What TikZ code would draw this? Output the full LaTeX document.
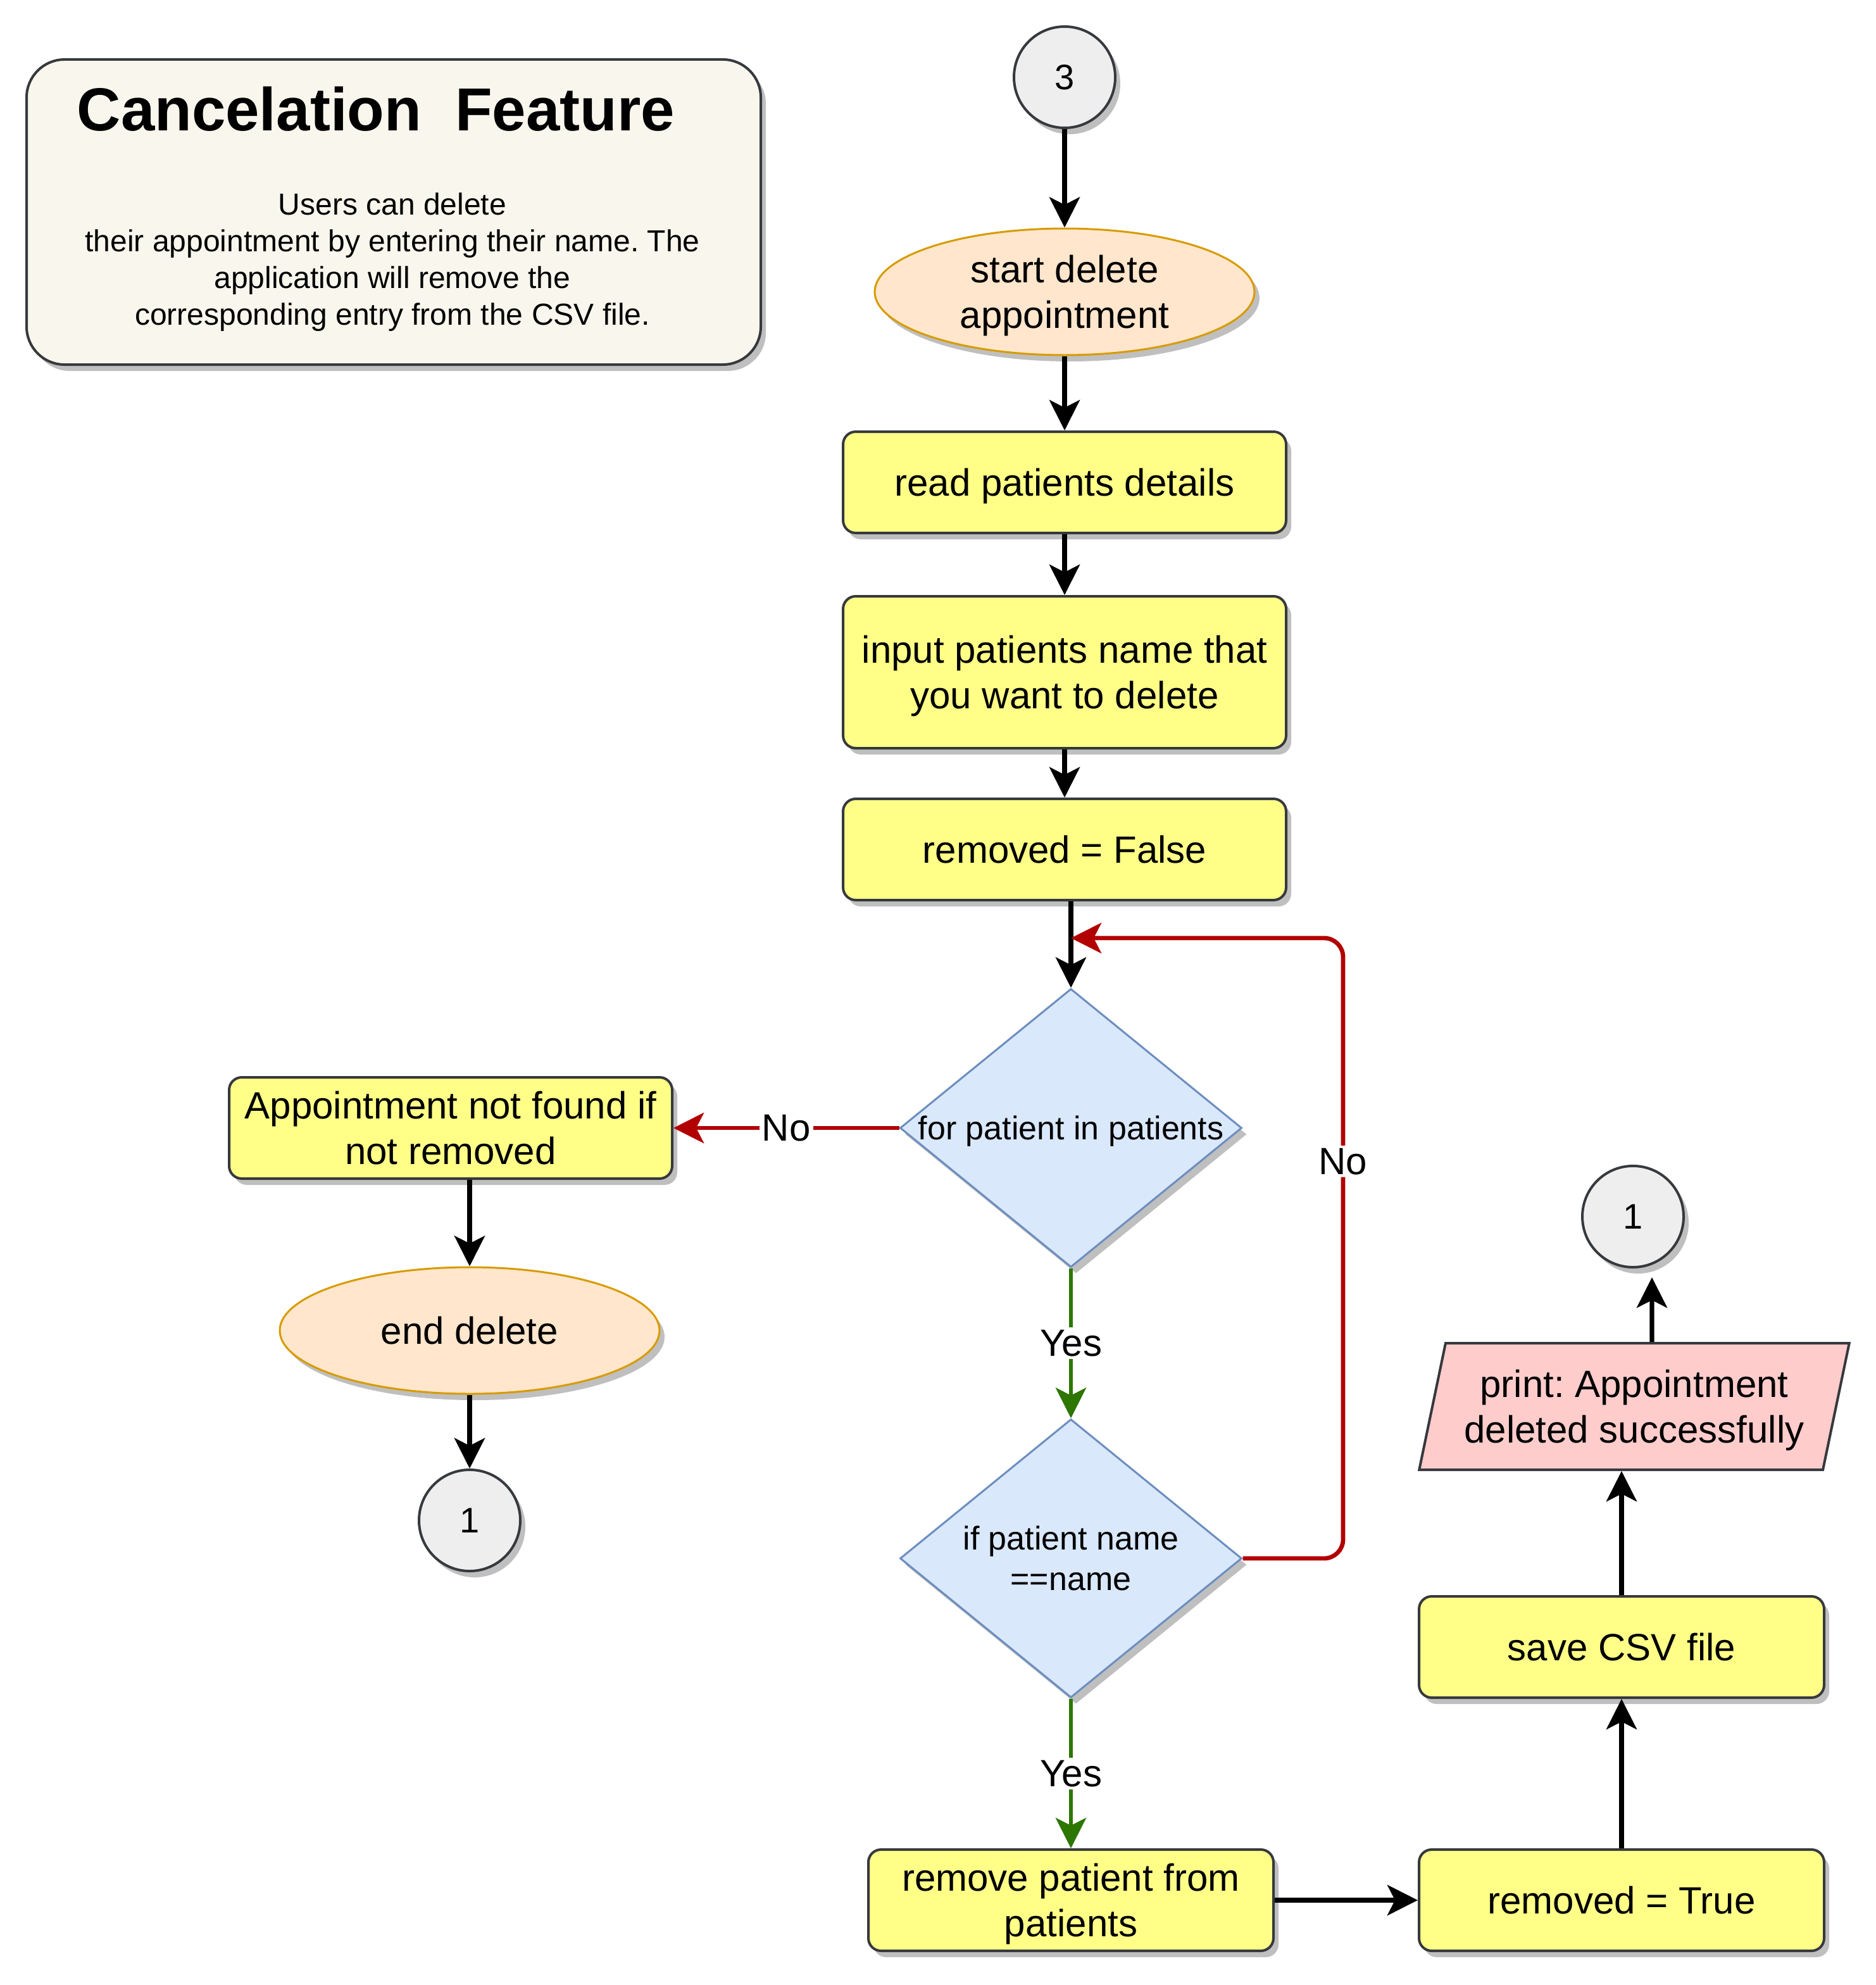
\documentclass[tikz,border=0pt]{standalone}
\usepackage{fontspec}
\setmainfont{Liberation Sans}
\frenchspacing
\usepackage{xcolor}
\definecolor{boxyellow}{HTML}{FFFF88}
\definecolor{edgegray}{HTML}{36393D}
\definecolor{termfill}{HTML}{FFE6CC}
\definecolor{termline}{HTML}{D79B00}
\definecolor{decfill}{HTML}{DAE8FC}
\definecolor{decline}{HTML}{6C8EBF}
\definecolor{connfill}{HTML}{EEEEEE}
\definecolor{notefill}{HTML}{F9F7ED}
\definecolor{printpink}{HTML}{FFCCCC}
\definecolor{nored}{HTML}{B20000}
\definecolor{yesgreen}{HTML}{2D7600}
\definecolor{shadowgray}{HTML}{BFBFBF}
\usepackage{tikz}
\usetikzlibrary{arrows.meta, shapes.geometric, shadows}

\begin{document}
\begin{tikzpicture}[x=1pt, y=-1pt, >={Stealth[length=24pt, width=24pt, inset=6pt]},
    boxshadow/.style={drop shadow={shadow xshift=4pt, shadow yshift=-5pt, fill=shadowgray, opacity=1}},
    txt/.style={font=\fontsize{30}{36}\selectfont, align=center},
    process/.style={txt, text depth=0pt, rectangle, rounded corners=10pt, draw=edgegray, line width=2pt, fill=boxyellow, minimum width=350pt, minimum height=80pt, inner sep=0pt, boxshadow},
    terminal/.style={txt, text depth=0pt, ellipse, draw=termline, line width=1.5pt, fill=termfill, minimum width=300pt, minimum height=100pt, inner sep=0pt, boxshadow},
    decision/.style={diamond, draw=decline, line width=1.5pt, fill=decfill, minimum width=270pt, minimum height=220pt, inner sep=0pt, boxshadow},
    dectext/.style={txt, text depth=0pt, font=\fontsize{26}{32}\selectfont},
    connector/.style={circle, draw=edgegray, line width=2pt, fill=connfill, minimum size=80pt, inner sep=0pt, font=\fontsize{28}{34}\selectfont, boxshadow},
    flow/.style={->, line width=3.6pt, black},
    noflow/.style={->, line width=3.4pt, nored},
    yesflow/.style={->, line width=3.4pt, yesgreen},
    lbl/.style={txt, fill=white, inner sep=2pt, text=black}]
    \useasboundingbox (0,0) rectangle (1482,1568);
    % title note
    \node[rectangle, rounded corners=30pt, draw=edgegray, line width=2pt, fill=notefill, minimum width=580pt, minimum height=241pt, boxshadow] (info) at (311,167.5) {};
    \node[font=\bfseries\fontsize{48}{58}\selectfont] (title) at (297,86) {Cancelation~~Feature};
    \node[txt, font=\fontsize{24}{29}\selectfont] (desc) at (310,207) {Users can delete\\their appointment by entering their name. The\\application will remove the\\corresponding entry from the CSV file.};
    % main column
    \node[connector] (c3) at (841,61) {3};
    \node[terminal] (start) at (841,230.5) {start delete\\appointment};
    \node[process] (read) at (841,381) {read patients details};
    \node[process, minimum height=120pt] (input) at (841,531) {input patients name that\\you want to delete};
    \node[process] (init) at (841,671) {removed = False};
    \node[decision, label={[dectext]center:for patient in patients}] (loop) at (846,891) {};
    \node[decision, label={[dectext]center:if patient name\\==name}] (match) at (846,1231) {};
    \node[process, minimum width=320pt] (remove) at (846,1501) {remove patient from\\patients};
    % left branch
    \node[process] (notfound) at (356,891) {Appointment not found if\\not removed};
    \node[terminal] (endnode) at (371,1051) {end delete};
    \node[connector] (c1a) at (371,1201) {1};
    % right column
    \node[process, minimum width=320pt] (settrue) at (1281,1501) {removed = True};
    \node[process, minimum width=320pt] (savecsv) at (1281,1301) {save CSV file};
    \node[txt, text depth=0pt, trapezium, trapezium left angle=72, trapezium right angle=108, trapezium stretches=true, draw=edgegray, line width=2pt, fill=printpink, minimum width=340pt, minimum height=100pt, inner sep=0pt] (printmsg) at (1291,1111) {print: Appointment\\deleted successfully};
    \node[connector] (c1b) at (1290,961) {1};
    % connectors
    \draw[flow] (c3) -- (start);
    \draw[flow] (start) -- (read);
    \draw[flow] (read) -- (input);
    \draw[flow] (input) -- (init);
    \draw[flow] (init.south -| loop.north) -- (loop.north);
    \draw[noflow] (loop.west) -- node[lbl] {No} (notfound.east);
    \draw[flow] (notfound.south -| endnode.north) -- (endnode.north);
    \draw[flow] (endnode) -- (c1a);
    \draw[yesflow] (loop.south) -- node[lbl] {Yes} (match.north);
    \coordinate (back) at (1061,741);
    \draw[noflow, rounded corners=15pt] (match.east) -| node[lbl, pos=0.82] {No} (back) -- (back -| loop.north);
    \draw[yesflow] (match.south) -- node[lbl] {Yes} (remove.north);
    \draw[flow] (remove) -- (settrue);
    \draw[flow] (settrue) -- (savecsv);
    \draw[flow] (savecsv.north) -- (savecsv.north |- printmsg.south);
    \draw[flow] ([xshift=14pt]printmsg.north) -- ([xshift=15pt, yshift=-7pt]c1b.south);
\end{tikzpicture}
\end{document}
